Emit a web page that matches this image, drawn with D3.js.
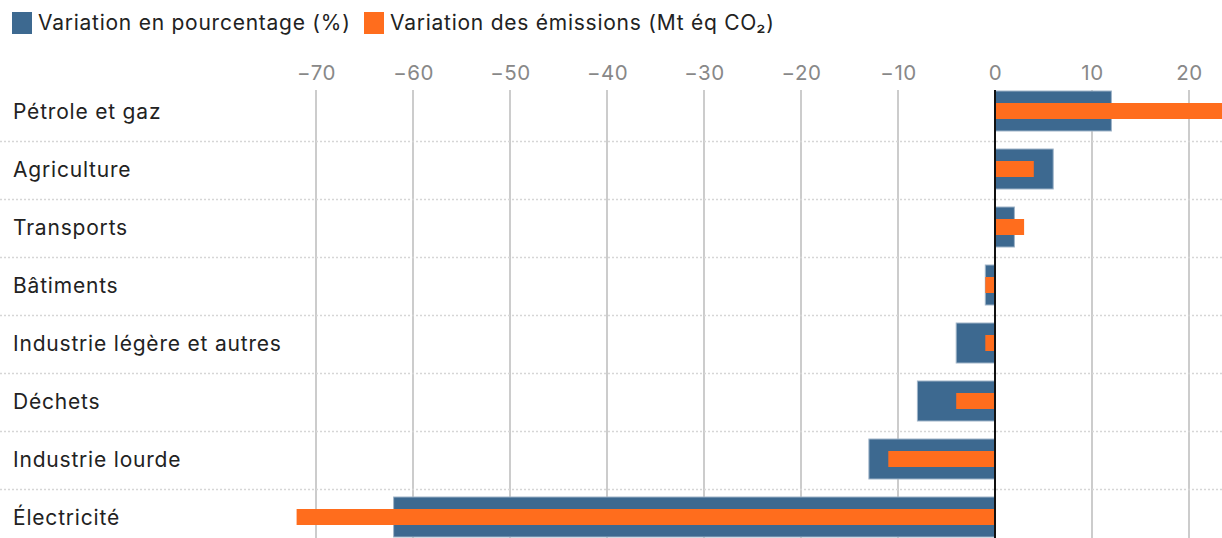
<!DOCTYPE html>
<html>
<head>
<meta charset="utf-8">
<script src="https://cdn.jsdelivr.net/npm/d3@7"></script>
<style>
  body { margin: 0; background: #fff; }
  svg { display: block; font-family: Inter, "Noto Sans", sans-serif; }
</style>
</head>
<body>
<div id="chart"></div>
<script>
var WIDTH = 1222;
var HEIGHT = 538;

var categories = ['Pétrole et gaz', 'Agriculture', 'Transports', 'Bâtiments',
  'Industrie légère et autres', 'Déchets', 'Industrie lourde', 'Électricité'];
var percentChange = [12, 6, 2, -1, -4, -8, -13, -62];
var emissionsChange = [24, 4, 3, -1, -1, -4, -11, -72];
var xTicks = [-70, -60, -50, -40, -30, -20, -10, 0, 10, 20];
var seriesNames = ['Variation en pourcentage (%)', 'Variation des émissions (Mt éq CO₂)'];
var colors = ['#3d6990', '#ff6d1d'];

var svg = d3.select('#chart').append('svg')
  .attr('width', WIDTH)
  .attr('height', HEIGHT);

var x = d3.scaleLinear().domain([-70, 20]).range([316, 1189]);
var y = d3.scaleBand().domain(categories).range([83, 83 + 58 * categories.length]).padding(0);

// legend
var legend = svg.append('g');
var lx = [12, 364];
seriesNames.forEach(function(name, i) {
  legend.append('rect')
    .attr('x', lx[i]).attr('y', 12)
    .attr('width', 20).attr('height', 22)
    .attr('fill', colors[i]);
  legend.append('text')
    .attr('x', lx[i] + 26).attr('y', 30)
    .attr('font-size', '21px')
    .attr('letter-spacing', '0.75px')
    .attr('fill', '#222')
    .text(name);
});

// grid lines + tick labels
var axis = d3.axisTop(x).tickValues(xTicks).tickSize(0).tickPadding(0)
  .tickFormat(function(d) { return d < 0 ? '\u2212' + Math.abs(d) : d; });
var gAxis = svg.append('g').attr('transform', 'translate(0,80)').call(axis);
gAxis.select('.domain').remove();
gAxis.selectAll('text')
  .attr('y', 0)
  .attr('font-size', '20.5px')
  .attr('letter-spacing', '0.5px')
  .attr('font-family', 'Inter, "Noto Sans", sans-serif')
  .attr('fill', '#888');

svg.append('g').selectAll('line')
  .data(xTicks.filter(function(d) { return d !== 0; }))
  .join('line')
  .attr('x1', function(d) { return x(d); })
  .attr('x2', function(d) { return x(d); })
  .attr('y1', 90).attr('y2', HEIGHT)
  .attr('stroke', '#cccccc')
  .attr('stroke-width', 2);

// row separators
svg.append('g').selectAll('line')
  .data(categories.slice(1))
  .join('line')
  .attr('x1', 0).attr('x2', WIDTH)
  .attr('y1', function(d) { return y(d) + 0.5; })
  .attr('y2', function(d) { return y(d) + 0.5; })
  .attr('stroke', '#d6d6d6')
  .attr('stroke-width', 1.5)
  .attr('stroke-dasharray', '2,2');

// category labels
svg.append('g').selectAll('text')
  .data(categories)
  .join('text')
  .attr('x', 13)
  .attr('y', function(d) { return y(d) + y.bandwidth() / 2 + 7; })
  .attr('font-size', '21px')
  .attr('letter-spacing', '0.8px')
  .attr('fill', '#222')
  .text(function(d) { return d; });

// percent bars (wide)
svg.append('g').selectAll('rect')
  .data(percentChange)
  .join('rect')
  .attr('x', function(d) { return x(Math.min(0, d)); })
  .attr('width', function(d) { return Math.abs(x(d) - x(0)); })
  .attr('y', function(d, i) { return y(categories[i]) + 8; })
  .attr('height', 40)
  .attr('fill', colors[0])
  .attr('stroke', '#9fb4c8')
  .attr('stroke-width', 1);

// emissions bars (narrow)
svg.append('g').selectAll('rect')
  .data(emissionsChange)
  .join('rect')
  .attr('x', function(d) { return x(Math.min(0, d)); })
  .attr('width', function(d) { return Math.abs(x(d) - x(0)); })
  .attr('y', function(d, i) { return y(categories[i]) + 20; })
  .attr('height', 16)
  .attr('fill', colors[1]);

// zero line
svg.append('line')
  .attr('x1', x(0)).attr('x2', x(0))
  .attr('y1', 90).attr('y2', HEIGHT)
  .attr('stroke', '#111')
  .attr('stroke-width', 2);
</script>
</body>
</html>
